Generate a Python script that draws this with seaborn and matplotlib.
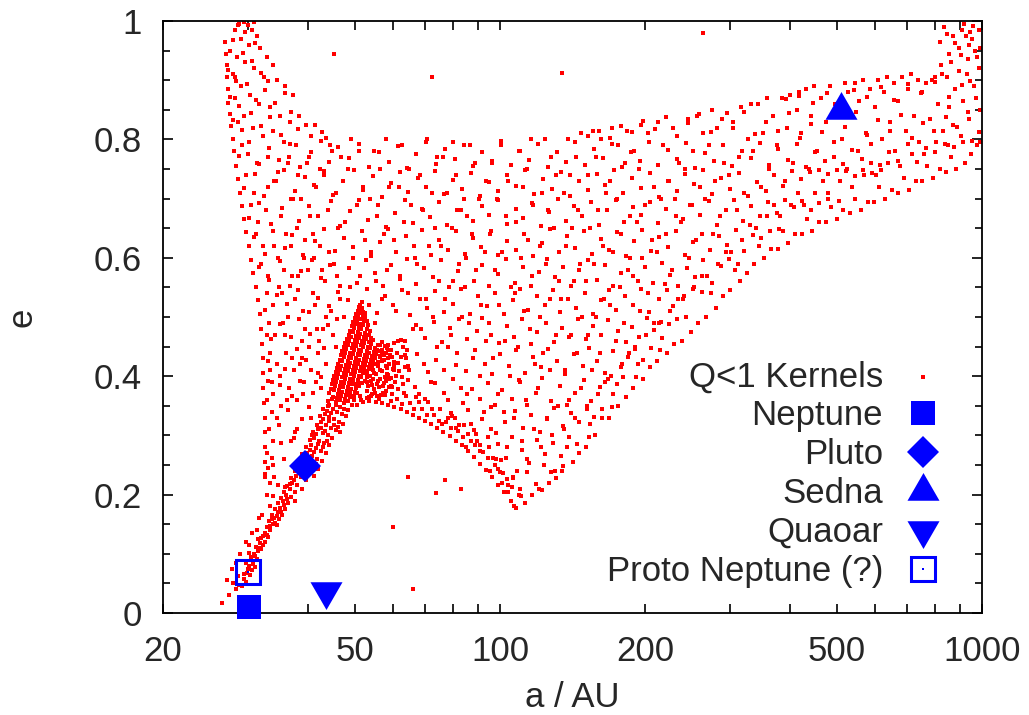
"""
plot.py -- Q<1 kernels in the (a, e) plane, with a few known bodies marked.
All values were read off the original figure by eye (a in AU, e).
"""
import pandas as pd
import matplotlib
matplotlib.use("Agg")
import matplotlib.pyplot as plt
from matplotlib.ticker import FixedLocator, NullFormatter
import seaborn as sns

# ---------------------------------------------------------------
# Kernel cloud, split by the region of the picture it was read from
# ---------------------------------------------------------------
left_edge = [
    (26.9, .965), (27.0, .945), (27.1, .925), (27.1, .905), (27.3, .885), (27.3, .862),
    (27.5, .843), (27.7, .822), (27.9, .801), (28.1, .780), (28.4, .755), (28.6, .733),
    (28.9, .710), (29.2, .688), (29.5, .665), (29.8, .643), (30.1, .620), (30.5, .597),
    (30.8, .574), (31.2, .550), (31.5, .528), (31.8, .505), (32.0, .480), (32.1, .455),
    (32.2, .430), (32.3, .405), (32.3, .380), (32.4, .355), (32.5, .330), (32.5, .305),
    (32.6, .280), (32.6, .255), (32.5, .230),
    (27.6, .950), (27.9, .910), (28.2, .870), (28.6, .830), (29.1, .790), (29.7, .740),
    (30.4, .690), (31.2, .640), (32.0, .590), (32.8, .540), (33.2, .490), (33.4, .440),
    (33.6, .390), (33.7, .340), (33.9, .290), (33.8, .250),
]

upper_lobe = [
    (28.2, .985), (28.8, .995), (29.4, .998), (30.0, .993), (30.6, .985), (31.3, .975),
    (29.0, .970), (30.2, .960), (31.8, .955), (32.9, .940), (33.8, .925), (28.5, .940),
    (29.6, .930), (30.9, .920), (32.4, .905), (34.5, .900), (35.8, .890), (37.2, .875),
    (29.0, .890), (30.3, .875), (31.6, .860), (33.3, .855), (34.9, .840), (36.6, .830),
    (38.3, .840), (39.6, .825), (29.4, .840), (30.8, .820), (32.2, .805), (33.9, .815),
    (35.7, .795), (37.8, .790), (40.5, .805), (42.7, .812), (30.0, .775), (31.4, .760),
    (33.0, .770), (34.6, .745), (36.3, .760), (38.2, .740), (40.1, .770), (42.3, .750),
    (44.8, .780),
    (28.0, .832), (29.2, .816), (30.5, .845), (31.9, .823), (33.4, .838), (35.1, .808),
    (36.9, .847), (38.1, .817), (41.3, .825), (43.6, .803),
    (27.6, .872), (28.7, .857), (29.9, .893), (31.2, .866), (32.6, .884), (34.1, .861),
    (35.8, .878), (28.3, .898),
    (27.3, .918), (28.2, .905), (29.3, .946), (30.6, .933), (31.9, .912), (33.1, .899),
    (27.9, .968), (29.6, .981), (31.1, .962), (28.6, .993), (30.9, .999),
]

fan_inner = [
    (30.9, .71), (31.5, .66), (32.2, .62), (32.7, .68), (33.1, .57), (32.9, .47),
    (33.3, .41), (32.8, .36), (33.2, .31), (32.9, .27), (33.4, .22), (33.1, .72),
    (34.0, .23), (35.6, .26), (36.8, .29), (34.4, .33), (36.1, .36), (35.0, .40),
    (37.1, .43), (34.2, .47), (36.4, .50), (35.3, .54), (37.0, .57), (34.6, .60),
    (36.0, .64), (35.1, .67), (37.3, .70), (34.3, .73), (36.5, .77), (35.8, .47),
    (34.8, .55), (36.9, .62),
    (38.0, .31), (40.6, .33), (39.1, .37), (41.5, .39), (38.4, .42), (40.2, .45),
    (41.8, .48), (39.0, .51), (40.9, .54), (38.2, .57), (41.2, .60), (39.5, .63),
    (40.4, .67), (38.7, .70), (41.6, .72), (39.8, .76), (38.9, .46), (40.0, .58),
    (42.5, .38), (43.6, .42), (45.8, .45), (42.9, .48), (44.7, .51), (46.5, .53),
    (43.3, .56), (45.3, .59), (42.4, .62), (46.2, .65), (44.0, .68), (45.6, .71),
    (43.1, .74), (46.8, .77), (44.4, .79),
    (33.9, .37), (35.2, .35), (36.5, .38), (37.9, .36), (39.2, .39), (34.5, .42),
    (36.0, .44), (37.4, .41), (38.8, .43), (40.5, .41), (42.0, .44), (33.8, .52),
    (35.4, .49), (37.6, .53), (39.5, .48), (41.3, .52), (43.5, .50), (45.0, .47),
    (34.0, .62), (35.6, .58), (37.9, .65), (39.2, .60), (41.0, .64), (42.8, .58),
    (44.2, .61), (46.0, .57),
    (32.8, .20), (33.3, .18), (32.1, .165), (31.3, .14), (30.2, .115), (32.6, .235),
    (47.4, .50), (48.9, .55), (51.2, .57), (49.6, .60), (52.4, .63), (47.8, .66),
    (50.5, .69), (52.1, .72), (48.4, .75), (50.9, .78), (49.2, .80),
    (53.6, .52), (56.8, .53), (55.2, .56), (58.4, .58), (54.1, .61), (57.5, .64),
    (55.7, .67), (53.8, .70), (58.9, .72), (56.3, .75), (54.7, .78), (57.9, .80),
    (55.0, .49),
    (60.2, .41), (63.8, .43), (61.5, .46), (65.9, .48), (60.8, .51), (64.4, .54),
    (62.1, .57), (66.5, .60), (60.4, .63), (63.2, .66), (65.4, .69), (61.7, .72),
    (64.9, .75), (62.6, .79),
    (67.8, .37), (71.9, .39), (69.6, .42), (74.1, .45), (68.5, .48), (72.6, .50),
    (70.3, .53), (74.6, .56), (67.4, .59), (71.1, .62), (73.4, .65), (69.2, .68),
    (72.3, .71), (68.1, .74), (74.0, .77), (70.7, .80),
    (75.8, .32), (80.6, .33), (78.1, .36), (82.9, .38), (76.6, .41), (81.4, .44),
    (79.2, .47), (83.5, .50), (77.0, .53), (80.1, .56), (82.3, .59), (75.5, .62),
    (79.7, .65), (83.0, .68), (77.7, .71), (81.0, .74), (76.3, .77), (79.9, .795),
    (84.9, .28), (89.6, .29), (87.2, .32), (92.5, .34), (85.6, .37), (90.8, .40),
    (88.0, .43), (93.4, .46), (86.1, .49), (91.2, .52), (84.5, .55), (89.1, .58),
    (92.9, .61), (87.5, .64), (85.3, .67), (90.3, .70), (93.7, .73), (88.6, .76),
    (86.7, .79),
    (95.2, .24), (100.8, .22), (98.3, .26), (103.6, .28), (96.0, .31), (101.9, .34),
    (99.1, .37), (104.8, .40), (96.8, .43), (102.5, .46), (94.7, .49), (99.7, .52),
    (105.3, .55), (97.6, .58), (101.2, .61), (95.5, .64), (103.0, .67), (98.7, .70),
    (104.1, .73), (96.4, .76), (100.4, .79),
]

fan_outer = [
    (107.2, .18), (112.5, .185), (109.8, .21), (116.3, .20), (108.4, .24), (114.0, .26),
    (111.1, .29), (117.6, .31), (106.9, .33), (113.2, .36), (110.2, .39), (118.2, .42),
    (108.9, .45), (115.4, .48), (112.0, .51), (107.5, .54), (116.8, .57), (110.7, .60),
    (114.6, .63), (108.1, .66), (117.1, .69), (111.6, .72), (113.8, .75), (109.3, .78),
    (115.9, .80),
    (120.4, .21), (126.3, .22), (123.5, .25), (130.2, .24), (121.6, .28), (128.4, .30),
    (125.0, .33), (131.7, .35), (119.8, .38), (127.1, .41), (123.0, .44), (130.8, .47),
    (121.1, .50), (126.8, .53), (132.3, .56), (124.4, .59), (120.9, .62), (129.3, .65),
    (125.7, .68), (122.3, .71), (131.0, .74), (127.6, .77), (124.0, .80),
    (134.6, .24), (141.5, .255), (138.0, .28), (145.8, .27), (135.5, .31), (143.1, .33),
    (139.4, .36), (147.6, .38), (136.2, .41), (144.2, .44), (140.3, .47), (148.1, .50),
    (134.0, .53), (142.4, .56), (146.9, .59), (137.3, .62), (141.0, .65), (145.0, .68),
    (135.9, .71), (139.9, .74), (143.7, .77), (138.6, .80), (147.2, .81),
    (150.5, .28), (157.2, .30), (154.0, .32), (162.8, .33), (151.8, .35), (159.6, .37),
    (165.2, .39), (155.3, .41), (161.4, .44), (152.4, .47), (158.1, .50), (164.3, .53),
    (150.9, .56), (156.7, .59), (163.5, .62), (153.6, .65), (160.0, .68), (166.1, .71),
    (152.0, .74), (157.9, .77), (162.2, .80), (155.8, .815),
    (168.4, .33), (176.1, .35), (172.0, .37), (182.5, .365), (169.7, .40), (179.3, .42),
    (185.0, .44), (173.8, .46), (180.6, .49), (168.9, .52), (177.2, .55), (184.1, .58),
    (171.3, .61), (178.5, .64), (186.2, .67), (174.6, .70), (169.1, .73), (181.8, .76),
    (175.5, .79), (183.3, .815), (170.5, .82),
    (189.0, .38), (198.2, .395), (193.6, .42), (205.1, .415), (190.3, .45), (201.0, .47),
    (208.4, .49), (195.4, .51), (203.3, .54), (188.5, .57), (197.0, .60), (206.7, .63),
    (192.1, .66), (199.8, .69), (209.0, .72), (194.5, .75), (189.7, .78), (202.4, .81),
    (196.3, .825),
    (212.0, .425), (222.4, .44), (217.1, .465), (230.0, .455), (213.6, .49), (225.3, .51),
    (233.8, .53), (219.5, .555), (227.9, .58), (211.4, .61), (221.0, .64), (231.5, .67),
    (215.8, .70), (224.6, .73), (234.7, .76), (218.3, .79), (228.6, .82), (213.0, .83),
    (238.1, .46), (249.5, .475), (243.6, .50), (258.0, .49), (239.9, .53), (252.7, .55),
    (262.1, .57), (246.3, .60), (255.4, .63), (237.3, .66), (248.0, .69), (259.8, .72),
    (242.2, .75), (251.1, .78), (263.5, .81), (245.0, .835), (256.6, .84),
    (267.0, .50), (280.2, .515), (273.4, .54), (289.6, .535), (269.1, .57), (283.8, .59),
    (294.0, .61), (276.3, .64), (286.5, .67), (266.2, .70), (278.9, .73), (291.7, .76),
    (271.5, .79), (282.0, .82), (295.3, .845), (274.8, .85),
    (299.5, .545), (314.6, .56), (307.0, .58), (325.0, .575), (302.1, .61), (318.3, .63),
    (330.2, .655), (309.7, .68), (321.6, .71), (298.4, .74), (312.9, .77), (327.4, .80),
    (304.8, .83), (316.0, .855), (332.5, .86),
    (336.0, .59), (353.1, .60), (344.5, .62), (364.8, .615), (339.2, .65), (357.4, .67),
    (370.6, .69), (347.6, .72), (361.2, .75), (335.1, .78), (351.0, .81), (367.9, .84),
    (342.3, .86), (358.7, .87),
    (377.2, .615), (396.5, .625), (386.4, .645), (409.3, .64), (380.7, .67), (401.2, .69),
    (416.0, .71), (390.1, .73), (405.5, .76), (376.4, .79), (394.2, .82), (412.8, .85),
    (384.0, .87), (399.0, .875), (418.2, .88),
    (423.5, .64), (445.0, .645), (433.7, .665), (459.2, .66), (427.0, .69), (450.3, .71),
    (466.8, .73), (437.9, .75), (455.6, .78), (422.1, .81), (442.5, .84), (463.0, .87),
    (430.6, .885), (448.1, .89),
    (475.3, .66), (499.6, .665), (487.0, .685), (515.8, .68), (480.1, .71), (507.5, .73),
    (524.2, .75), (492.3, .77), (512.0, .80), (473.8, .83), (496.1, .86), (527.0, .88),
    (484.5, .89), (519.3, .895),
    (533.0, .675), (560.4, .68), (546.2, .70), (579.1, .695), (538.6, .72), (569.8, .74),
    (588.5, .76), (552.0, .78), (574.3, .81), (531.7, .84), (557.0, .865), (585.2, .885),
    (543.9, .895), (566.3, .90),
    (597.5, .695), (628.9, .70), (612.4, .72), (650.0, .715), (603.1, .74), (638.6, .76),
    (660.2, .78), (619.7, .80), (644.8, .83), (598.9, .855), (626.0, .88), (655.5, .895),
    (608.3, .90), (634.1, .905),
    (670.4, .71), (705.0, .715), (687.8, .735), (729.6, .73), (676.2, .755), (716.5, .775),
    (741.0, .795), (694.1, .815), (722.8, .84), (668.5, .865), (701.3, .885), (735.7, .90),
    (682.0, .905), (711.4, .91),
    (751.6, .73), (790.0, .735), (770.3, .755), (818.4, .75), (758.2, .775), (803.7, .795),
    (831.5, .815), (778.6, .835), (810.1, .86), (749.8, .88), (786.2, .90), (825.9, .91),
    (765.0, .895), (797.3, .905),
    (842.5, .745), (885.0, .75), (863.3, .77), (921.6, .76), (951.0, .775), (849.7, .79),
    (903.8, .805), (978.2, .79), (871.4, .825), (938.5, .835), (856.0, .855), (912.3, .865),
    (990.0, .85), (880.6, .885), (962.7, .89), (846.1, .905), (930.4, .91), (897.7, .915),
    (985.3, .92),
]

# second pass over the fan, strip by strip in e
fan_fill = [
    (104.0, .205), (110.5, .198), (118.8, .218), (127.5, .238), (135.2, .248), (122.4, .208),
    (106.3, .228), (113.7, .238), (101.5, .236), (131.0, .228), (33.0, .245), (34.6, .216),
    (33.9, .198),
    (33.6, .262), (35.1, .288), (37.4, .296), (91.0, .274), (94.5, .297), (98.9, .285),
    (102.7, .262), (106.1, .297), (110.9, .276), (115.1, .254), (119.5, .292), (124.2, .268),
    (129.0, .288), (133.8, .266), (138.9, .297), (144.5, .286), (153.0, .298),
    (34.8, .318), (36.3, .343), (38.9, .327), (40.1, .348), (37.5, .305), (79.0, .337),
    (82.4, .318), (85.9, .343), (88.2, .309), (91.6, .327), (95.8, .348), (98.1, .304),
    (102.3, .322), (107.7, .341), (111.6, .312), (116.0, .334), (120.9, .306), (125.2, .327),
    (129.7, .347), (134.9, .316), (140.1, .338), (145.9, .323), (151.3, .345), (157.0, .331),
    (163.0, .344), (170.8, .348),
    (34.9, .385), (37.0, .366), (38.4, .392), (40.9, .371), (42.6, .398), (33.1, .392),
    (66.8, .381), (70.0, .362), (73.5, .388), (76.7, .372), (80.0, .396), (84.0, .355),
    (87.4, .379), (91.0, .362), (94.6, .389), (97.5, .352), (100.9, .377), (106.0, .362),
    (109.5, .394), (113.9, .352), (118.7, .371), (122.5, .397), (127.9, .358), (133.3, .384),
    (137.9, .352), (143.0, .372), (149.1, .393), (154.5, .358), (161.0, .382), (167.2, .395),
    (174.7, .386), (180.0, .398), (191.5, .399),
    (33.0, .425), (35.8, .413), (37.9, .446), (39.6, .428), (41.9, .405), (43.2, .447),
    (64.6, .418), (67.3, .437), (70.8, .407), (73.8, .428), (77.9, .449), (81.1, .419),
    (85.0, .409), (88.7, .445), (92.9, .421), (96.2, .403), (100.0, .437), (104.5, .417),
    (108.1, .445), (112.7, .406), (117.0, .432), (121.8, .416), (126.0, .446), (131.4, .425),
    (136.7, .404), (142.4, .437), (148.6, .417), (153.2, .448), (159.1, .426), (165.5, .405),
    (171.8, .442), (178.0, .415), (184.6, .433), (191.0, .446), (198.4, .428), (205.9, .447),
    (215.0, .445),
    (33.5, .462), (35.0, .488), (36.9, .467), (38.3, .496), (40.4, .472), (42.2, .459),
    (43.9, .487), (46.0, .497), (63.6, .460), (66.9, .486), (69.8, .465), (73.0, .492),
    (76.0, .458), (78.7, .481), (82.1, .497), (85.4, .463), (89.5, .476), (92.0, .498),
    (95.7, .470), (99.4, .456), (103.4, .484), (107.0, .467), (110.9, .496), (115.8, .455),
    (119.6, .475), (124.9, .490), (129.5, .458), (134.7, .482), (139.2, .466), (145.4, .497),
    (150.9, .462), (156.0, .485), (162.1, .470), (167.9, .495), (175.8, .476), (182.2, .457),
    (187.9, .483), (194.6, .466), (201.9, .498), (208.5, .478), (216.3, .492), (224.0, .488),
    (233.2, .497),
    (32.5, .512), (34.5, .538), (36.2, .522), (38.1, .546), (40.1, .508), (42.0, .532),
    (44.1, .518), (46.2, .543), (48.3, .528), (53.0, .548), (55.5, .507), (57.8, .535),
    (60.0, .520), (62.6, .545), (65.1, .503), (68.1, .530), (70.5, .516), (73.4, .544),
    (76.5, .508), (79.9, .522), (83.1, .548), (86.5, .505), (90.2, .535), (93.9, .518),
    (97.7, .541), (101.8, .505), (106.6, .528), (110.2, .547), (114.3, .512), (119.2, .535),
    (123.8, .520), (128.9, .546), (133.1, .508), (138.3, .531), (144.0, .515), (149.8, .541),
    (155.6, .505), (161.9, .528), (168.0, .545), (174.4, .512), (181.7, .536), (189.2, .520),
    (196.5, .548), (204.2, .509), (213.4, .530), (221.8, .545), (229.0, .518), (240.4, .535),
    (251.4, .548), (262.0, .542),
    (31.6, .585), (33.2, .562), (34.9, .594), (36.6, .553), (38.6, .578), (40.8, .597),
    (42.5, .566), (44.5, .588), (46.5, .552), (48.6, .582), (50.6, .558), (52.7, .596),
    (55.0, .575), (57.2, .553), (59.5, .588), (61.9, .564), (64.3, .598), (67.0, .556),
    (69.6, .583), (72.5, .568), (75.3, .596), (78.3, .551), (81.7, .577), (85.0, .599),
    (88.4, .561), (91.8, .587), (95.1, .553), (99.0, .572), (103.1, .598), (107.3, .558),
    (111.5, .585), (115.9, .552), (120.5, .576), (125.4, .598), (130.0, .567), (135.2, .584),
    (140.7, .552), (146.2, .579), (152.0, .596), (158.6, .563), (165.0, .587), (171.6, .552),
    (178.0, .575), (185.7, .599), (193.2, .560), (200.1, .585), (208.0, .557), (216.5, .592),
    (225.5, .571), (234.6, .552), (244.5, .582), (254.0, .567), (264.3, .596), (275.0, .558),
    (287.0, .586), (299.0, .598), (311.8, .590),
    (30.9, .635), (32.5, .606), (33.8, .646), (35.9, .617), (37.1, .639), (39.0, .605),
    (41.3, .628), (43.2, .648), (45.4, .611), (47.4, .634), (49.5, .618), (51.7, .645),
    (53.9, .603), (56.3, .627), (58.6, .649), (61.0, .610), (63.7, .636), (66.2, .620),
    (68.9, .647), (71.9, .604), (74.9, .630), (77.9, .614), (81.2, .645), (84.6, .607),
    (88.0, .633), (91.5, .618), (95.6, .646), (99.1, .605), (103.6, .629), (108.0, .613),
    (112.4, .641), (117.3, .603), (122.0, .625), (127.3, .648), (132.4, .609), (138.0, .636),
    (143.3, .617), (149.5, .645), (155.2, .606), (161.7, .631), (168.4, .614), (175.2, .644),
    (182.4, .603), (190.0, .628), (197.5, .647), (205.6, .611), (214.0, .635), (222.9, .619),
    (232.2, .646), (241.7, .605), (251.9, .627), (262.2, .641), (273.0, .614), (284.5, .636),
    (296.3, .622), (308.6, .647), (321.0, .612), (334.4, .638), (348.0, .633), (362.5, .645),
    (380.0, .648),
    (30.2, .667), (31.7, .692), (33.5, .657), (35.3, .684), (36.8, .699), (38.3, .662),
    (40.2, .688), (42.0, .671), (44.7, .696), (46.5, .654), (48.9, .679), (51.0, .698),
    (53.3, .664), (55.9, .689), (58.0, .652), (60.7, .676), (63.4, .697), (66.0, .659),
    (68.8, .683), (71.7, .669), (74.7, .694), (77.7, .655), (81.3, .681), (84.3, .699),
    (87.9, .662), (91.6, .688), (95.0, .673), (98.9, .697), (103.2, .657), (107.8, .682),
    (111.8, .668), (116.6, .693), (121.6, .654), (126.2, .678), (131.7, .699), (136.8, .663),
    (142.6, .687), (148.3, .671), (154.7, .694), (160.4, .656), (167.1, .680), (174.0, .697),
    (181.0, .661), (188.6, .686), (196.0, .672), (204.5, .695), (212.7, .658), (221.5, .683),
    (230.8, .699), (240.2, .665), (250.2, .689), (260.4, .673), (271.3, .696), (282.6, .655),
    (294.1, .680), (306.2, .697), (319.0, .662), (332.0, .688), (345.9, .670), (360.5, .694),
    (375.3, .675), (390.7, .698), (407.1, .686), (424.0, .696), (441.5, .680), (460.0, .693),
    (479.2, .699), (505.0, .696),
    (29.5, .718), (31.0, .741), (32.4, .705), (34.0, .730), (35.6, .748), (37.6, .712),
    (39.4, .737), (41.1, .723), (43.1, .746), (45.0, .706), (47.3, .729), (49.8, .748),
    (52.0, .714), (54.5, .738), (56.9, .703), (59.3, .726), (62.0, .745), (64.6, .711),
    (67.5, .735), (70.2, .720), (73.3, .747), (76.6, .707), (79.9, .732), (83.6, .716),
    (87.0, .743), (90.9, .704), (94.8, .728), (99.2, .712), (103.5, .740), (107.9, .722),
    (112.9, .749), (117.8, .708), (122.8, .733), (128.2, .717), (133.8, .745), (139.6, .705),
    (145.7, .730), (152.0, .714), (158.7, .742), (165.5, .723), (172.7, .748), (180.2, .709),
    (188.0, .735), (196.2, .718), (204.7, .744), (213.6, .703), (222.8, .729), (232.5, .713),
    (242.6, .741), (253.1, .724), (264.1, .749), (275.6, .707), (287.6, .734), (300.0, .716),
    (313.1, .743), (326.6, .704), (340.8, .728), (355.7, .712), (371.1, .740), (387.2, .721),
    (404.0, .747), (421.6, .733), (439.9, .745), (459.0, .748), (478.9, .741), (499.7, .749),
    (521.4, .746), (544.0, .739), (567.6, .748), (592.2, .744), (618.0, .749),
    (28.7, .772), (30.1, .795), (31.6, .758), (33.2, .786), (34.8, .765), (36.7, .792),
    (38.5, .753), (40.6, .779), (42.6, .797), (44.1, .761), (46.2, .787), (48.7, .768),
    (51.1, .793), (53.6, .754), (56.0, .778), (58.8, .762), (61.4, .789), (64.2, .752),
    (67.1, .776), (70.3, .795), (73.7, .759), (77.1, .783), (80.6, .767), (84.3, .791),
    (88.1, .755), (92.0, .779), (96.2, .763), (100.6, .797), (105.2, .757), (110.0, .781),
    (114.9, .765), (120.1, .792), (125.6, .753), (131.2, .778), (137.1, .762), (143.4, .795),
    (149.9, .757), (156.6, .784), (163.7, .768), (171.1, .793), (178.8, .754), (186.8, .779),
    (195.3, .763), (204.0, .796), (213.2, .756), (222.9, .782), (233.0, .767), (243.4, .794),
    (254.4, .752), (265.9, .777), (277.8, .764), (290.4, .791), (303.4, .755), (317.1, .780),
    (331.4, .768), (346.4, .794), (362.0, .757), (378.3, .783), (395.4, .766), (413.2, .792),
    (431.8, .754), (451.3, .778), (471.6, .763), (492.9, .795), (515.1, .758), (538.3, .782),
    (562.6, .767), (587.9, .793), (614.4, .756), (642.1, .779), (671.0, .764), (701.3, .792),
    (732.9, .762), (765.9, .785), (800.4, .779), (836.5, .792), (874.2, .787), (913.6, .796),
    (954.8, .798), (990.0, .795),
    (152.0, .806), (160.3, .814), (169.0, .803), (178.4, .822), (188.0, .812), (198.4, .831),
    (209.3, .818), (220.8, .838), (232.9, .805), (245.7, .827), (259.2, .843), (273.4, .812),
    (288.4, .834), (304.2, .820), (321.0, .846), (338.6, .809), (357.2, .830), (376.8, .815),
    (397.5, .844), (419.3, .803), (442.4, .826), (466.7, .812), (492.3, .838), (519.4, .821),
    (547.9, .847), (578.0, .807), (609.8, .832), (643.3, .815), (678.7, .842), (716.0, .803),
    (755.3, .827), (796.9, .814), (840.7, .838), (886.9, .821), (935.7, .846), (987.0, .812),
    (392.0, .868), (418.1, .874), (446.0, .862), (476.0, .879), (541.6, .884), (578.0, .872),
    (616.6, .889), (657.8, .866), (701.8, .894), (748.7, .879), (798.8, .897), (852.2, .872),
    (909.1, .892), (970.0, .870), (944.0, .898),
]

top_right = [
    (818.0, .965), (836.0, .990), (855.2, .945), (872.0, .975), (896.3, .955), (918.7, .995),
    (934.0, .935), (951.5, .970), (968.2, .950), (985.0, .985), (907.0, .985), (940.8, .960),
    (975.6, .940), (862.0, .930), (823.0, .925), (848.0, .978), (880.0, .962), (925.0, .975),
    (958.0, .992), (991.0, .955), (903.0, .942), (944.0, .982),
]

tail_band = [
    (26.5, .017), (27.4, .030), (28.3, .040), (29.2, .045), (29.8, .052), (28.0, .050),
    (27.1, .055), (28.6, .062), (29.5, .058), (30.3, .064),
    (29.9, .068), (30.6, .072), (31.0, .078), (30.2, .080), (29.7, .085), (30.8, .088),
    (31.4, .092), (30.4, .095), (27.8, .075), (28.4, .085), (28.9, .100),
    (30.9, .100), (31.5, .104), (32.0, .108), (31.2, .112), (31.8, .118), (32.5, .120),
    (31.5, .125), (32.2, .130), (33.0, .128), (29.8, .120), (30.6, .135),
    (32.6, .135), (33.4, .140), (32.9, .145), (33.8, .150), (34.4, .148), (33.2, .155),
    (34.0, .160), (34.8, .158), (33.6, .165), (34.6, .170), (35.3, .166), (31.6, .160),
    (34.2, .175), (35.0, .178), (35.8, .175), (34.7, .185), (35.5, .190), (36.4, .186),
    (35.1, .195), (36.0, .200), (36.9, .196), (37.5, .190), (35.6, .205), (36.6, .210),
    (37.6, .205),
    (36.2, .215), (37.1, .220), (38.0, .216), (38.8, .210), (36.9, .228), (37.8, .232),
    (38.7, .229), (39.6, .224), (37.5, .240), (38.4, .244), (39.3, .240), (40.3, .236),
    (41.2, .232),
    (38.2, .255), (39.1, .258), (40.0, .252), (41.0, .248), (42.0, .244), (38.8, .268),
    (39.8, .270), (40.8, .265), (41.8, .260), (42.7, .256),
    (39.6, .280), (40.5, .284), (41.5, .279), (42.5, .274), (43.5, .270), (40.3, .292),
    (41.2, .296), (42.2, .291), (43.2, .287), (44.2, .283), (41.0, .305), (41.9, .310),
    (42.9, .304), (43.9, .300), (44.9, .296),
    (41.7, .318), (42.6, .322), (43.6, .318), (44.6, .313), (45.6, .309), (46.5, .305),
    (42.4, .332), (43.3, .336), (44.3, .331), (45.3, .327), (46.3, .323), (47.2, .319),
    (43.0, .345), (44.0, .349), (45.0, .344), (46.0, .340), (47.0, .336), (48.0, .332),
    (28.8, .048), (29.5, .066), (30.0, .075), (30.7, .082), (31.1, .097), (30.1, .102),
    (31.6, .110), (32.3, .115), (31.9, .126), (32.8, .131), (33.3, .147), (34.1, .152),
    (33.7, .158), (34.5, .164), (35.1, .171), (35.6, .182), (36.2, .193), (35.9, .212),
    (36.7, .218), (37.4, .225), (38.3, .236), (39.0, .233), (39.8, .246), (40.7, .242),
    (41.6, .252), (39.3, .262), (40.3, .276), (41.1, .272), (42.0, .285), (43.0, .280),
    (43.8, .291), (40.7, .300), (41.6, .302), (42.5, .313), (43.4, .308), (44.3, .324),
    (45.2, .318), (46.1, .315), (42.9, .328), (43.8, .341), (44.7, .338), (45.6, .352),
    (46.6, .348), (47.5, .344), (48.5, .343),
]

wedge = [
    (43.9, .358), (44.8, .362), (45.7, .356), (46.6, .360), (47.5, .354), (48.4, .358),
    (49.3, .352), (44.3, .372), (45.2, .376), (46.1, .370), (47.0, .374), (47.9, .368),
    (48.8, .372), (49.7, .366),
    (44.8, .386), (45.7, .390), (46.6, .384), (47.5, .388), (48.4, .382), (49.3, .386),
    (50.2, .380), (51.1, .384), (45.3, .400), (46.2, .404), (47.1, .398), (48.0, .402),
    (48.9, .396), (49.8, .400), (50.7, .394), (51.6, .398), (52.5, .392), (45.9, .414),
    (46.8, .418), (47.7, .412), (48.6, .416), (49.5, .410), (50.4, .414), (51.3, .408),
    (52.2, .412), (53.1, .406),
    (46.5, .428), (47.4, .432), (48.3, .426), (49.2, .430), (50.1, .424), (51.0, .428),
    (51.9, .422), (52.8, .426), (53.7, .420), (54.6, .424), (47.1, .442), (48.0, .446),
    (48.9, .440), (49.8, .444), (50.7, .438), (51.6, .442), (52.5, .436), (53.4, .440),
    (54.3, .434), (55.2, .438), (56.4, .432), (57.6, .436),
    (47.8, .456), (48.7, .460), (49.6, .454), (50.5, .458), (51.4, .452), (52.3, .456),
    (53.2, .450), (54.1, .454), (55.1, .448), (56.3, .452), (58.2, .448), (48.6, .470),
    (49.5, .474), (50.4, .468), (51.3, .472), (52.2, .466), (53.1, .470), (54.0, .464),
    (49.3, .484), (50.2, .488), (51.1, .482), (52.0, .486), (52.9, .480), (53.8, .476),
    (50.0, .498), (50.8, .502), (51.6, .496), (52.4, .500), (53.0, .494), (50.7, .510),
    (51.4, .514), (52.1, .508), (51.3, .520), (51.7, .525),
    (44.2, .351), (45.1, .365), (46.0, .363), (46.9, .367), (47.8, .361), (48.9, .365),
    (49.8, .359), (50.6, .371), (44.6, .379), (45.5, .383), (46.4, .377), (47.3, .381),
    (48.2, .375), (49.1, .379), (50.0, .373), (50.8, .389), (45.0, .393), (45.9, .397),
    (46.8, .391), (47.7, .395), (48.6, .389), (49.5, .393), (50.4, .387), (51.8, .389),
    (52.9, .399), (45.6, .407), (46.5, .411), (47.4, .405), (48.3, .409), (49.2, .403),
    (50.1, .407), (51.0, .401), (51.9, .405), (52.8, .409), (53.6, .415), (46.2, .421),
    (47.1, .425), (48.0, .419), (48.9, .423), (49.8, .417), (50.7, .421), (51.6, .415),
    (52.5, .419), (53.4, .413), (54.3, .417), (55.3, .421), (46.8, .435), (47.7, .439),
    (48.6, .433), (49.5, .437), (50.4, .431), (51.3, .435), (52.2, .429), (53.1, .433),
    (54.0, .427), (55.0, .431), (56.0, .443), (57.0, .445), (47.5, .449), (48.4, .453),
    (49.3, .447), (50.2, .451), (51.1, .445), (52.0, .449), (52.9, .443), (53.8, .447),
    (54.7, .441), (55.7, .445), (48.2, .463), (49.1, .467), (50.0, .461), (50.9, .465),
    (51.8, .459), (52.7, .463), (53.6, .457), (54.6, .461), (48.9, .477), (49.8, .481),
    (50.7, .475), (51.6, .479), (52.5, .473), (53.4, .469), (49.6, .491), (50.5, .495),
    (51.3, .489), (52.2, .493), (53.2, .487), (50.3, .505), (51.1, .507), (51.9, .503),
    (52.6, .507), (51.0, .517), (51.8, .515),
    # right flank of the wedge, out to a ~ 59
    (53.3, .383), (54.0, .392), (54.8, .378), (55.5, .387), (56.3, .396), (57.1, .383),
    (57.9, .392), (58.6, .402), (53.8, .401), (55.3, .404), (56.9, .408), (58.3, .414),
    (54.5, .411), (55.9, .424), (57.4, .427), (58.9, .421), (56.5, .434), (57.9, .440),
    (58.7, .444), (55.8, .452), (56.9, .457), (57.8, .451), (53.1, .391), (54.1, .366),
    (55.7, .366), (57.3, .371), (58.8, .381), (59.5, .397), (60.2, .418), (59.2, .436),
]

wedge_side = [
    (53.5, .365), (55.0, .372), (56.6, .368), (58.1, .375), (59.8, .370), (61.4, .378),
    (54.2, .385), (55.8, .392), (57.4, .388), (59.0, .395), (60.7, .390), (62.5, .398),
    (64.4, .394), (54.9, .405), (56.5, .410), (58.2, .404), (59.9, .412), (61.6, .408),
    (63.5, .415), (57.0, .425), (58.7, .430), (60.4, .424), (62.2, .432), (59.5, .445),
    (61.3, .440), (63.0, .450),
    (53.0, .375), (54.6, .396), (56.2, .382), (57.7, .398), (59.3, .384), (61.0, .400),
    (62.8, .387), (64.8, .410), (55.9, .417), (57.9, .418), (59.6, .433), (61.5, .422),
    (63.4, .436), (56.8, .438), (58.5, .452), (60.3, .456), (62.2, .461), (64.1, .445),
]

arc = [
    (50.5, .352), (52.0, .356), (53.6, .358), (55.2, .357), (56.9, .355), (58.6, .352),
    (60.4, .348), (62.2, .344), (64.0, .340), (65.9, .335), (67.9, .330), (69.9, .325),
    (72.0, .319), (74.1, .313), (76.3, .306), (78.6, .299), (80.9, .291), (83.3, .283),
    (85.8, .273), (88.3, .263), (90.9, .252), (93.6, .242), (96.4, .230), (99.3, .217),
    (102.2, .204), (105.2, .190), (108.0, .178),
    (51.2, .366), (54.4, .370), (57.7, .368), (61.3, .362), (65.0, .354), (68.9, .344),
    (73.0, .334), (77.4, .322), (82.0, .307), (86.9, .291), (92.2, .272), (97.8, .250),
    (103.6, .226), (109.5, .200),
    (63.2, .372), (67.0, .365), (71.0, .356), (75.2, .345), (79.7, .332), (84.4, .318),
    (89.4, .302), (94.9, .280), (100.6, .258), (106.5, .230),
    (51.5, .360), (53.0, .363), (56.0, .362), (59.3, .358), (62.7, .353), (66.4, .344),
    (70.5, .335), (74.7, .324), (79.1, .312), (83.9, .298), (88.9, .284), (94.3, .262),
    (100.0, .238), (105.9, .212), (59.6, .382), (63.9, .366), (67.8, .356), (72.4, .345),
    (77.9, .330), (81.2, .312), (86.0, .302), (90.8, .283), (96.7, .262), (99.0, .244),
    (103.9, .216),
]

strays = [
    (45.3, .944), (72.3, .905), (134.5, .912), (264.0, .980), (64.5, .230), (76.9, .225),
    (73.6, .203), (60.0, .145), (66.0, .040), (83.0, .210),
]

# ---------------------------------------------------------------
# Named bodies
# ---------------------------------------------------------------
body_names = ["Neptune", "Pluto", "Sedna", "Quaoar", "Proto Neptune (?)"]
body_a = [30.1, 39.5, 510.0, 43.5, 30.0]
body_e = [0.010, 0.249, 0.850, 0.037, 0.070]

x_ticks = [20, 50, 100, 200, 500, 1000]
x_minor = [30, 40, 60, 70, 80, 90, 300, 400, 600, 700, 800, 900]
y_ticks = [0, 0.2, 0.4, 0.6, 0.8, 1.0]
y_tick_labels = ["0", "0.2", "0.4", "0.6", "0.8", "1"]
y_minor = [0.05 * i for i in range(21)]

# ---------------------------------------------------------------
# Style
# ---------------------------------------------------------------
sns.set_theme(style="ticks")
plt.rcParams["font.family"] = ["Liberation Sans", "DejaVu Sans"]
plt.rcParams["font.size"] = 25
plt.rcParams["axes.linewidth"] = 1.3

BLUE = "#0000ff"
RED = "#ff0000"
FS = 25

# centroid-centred triangles, like gnuplot draws them
TRI_UP = [(0, 0.577), (-0.5, -0.289), (0.5, -0.289)]
TRI_DN = [(0, -0.577), (-0.5, 0.289), (0.5, 0.289)]

kernels = (left_edge + upper_lobe + fan_inner + fan_outer + fan_fill + top_right
           + tail_band + wedge + wedge_side + arc + strays)
df = pd.DataFrame(kernels, columns=["a", "e"])

fig = plt.figure(figsize=(10.29, 7.15), dpi=100)
ax = fig.add_axes([163 / 1029, 1 - 613 / 715, 819 / 1029, 592 / 715])

sns.scatterplot(data=df, x="a", y="e", ax=ax, s=6, marker="s", color=RED,
                linewidth=0, legend=False, zorder=2)
kern_handle = ax.collections[0]

styles = {
    "Neptune": dict(marker="s", ms=17.3, mfc=BLUE, mec=BLUE, mew=0),
    "Pluto": dict(marker="D", ms=15.8, mfc=BLUE, mec=BLUE, mew=0),
    "Sedna": dict(marker=TRI_UP, ms=26.6, mfc=BLUE, mec=BLUE, mew=0),
    "Quaoar": dict(marker=TRI_DN, ms=26.6, mfc=BLUE, mec=BLUE, mew=0),
    "Proto Neptune (?)": dict(marker="s", ms=16.6, mfc="none", mec=BLUE, mew=2.2),
}
handles = [kern_handle]
for name, a, e in zip(body_names, body_a, body_e):
    ln, = ax.plot([a], [e], ls="none", clip_on=False, zorder=4, **styles[name])
    if name.startswith("Proto"):
        dot, = ax.plot([a], [e], ls="none", marker="s", ms=2.0, mfc=BLUE,
                       mec=BLUE, mew=0, clip_on=False, zorder=5)
        handles.append((ln, dot))
    else:
        handles.append(ln)
labels = ["Q<1 Kernels"] + body_names

# ---------------------------------------------------------------
# Axes
# ---------------------------------------------------------------
ax.set_xscale("log")
ax.set_xlim(20, 1000)
ax.set_ylim(0, 1)
ax.set_xticks(x_ticks)
ax.set_xticklabels([str(t) for t in x_ticks])
ax.xaxis.set_minor_locator(FixedLocator(x_minor))
ax.xaxis.set_minor_formatter(NullFormatter())
ax.set_yticks(y_ticks)
ax.set_yticklabels(y_tick_labels)
ax.yaxis.set_minor_locator(FixedLocator(y_minor))

ax.tick_params(which="both", direction="in", top=True, right=True,
               width=1.2, color="black", labelsize=FS)
ax.tick_params(axis="x", which="both", length=6.5, pad=16)
ax.tick_params(axis="y", which="major", length=7.2, pad=15)
ax.tick_params(axis="y", which="minor", length=5.0)
for sp in ax.spines.values():
    sp.set_color("black")

ax.set_xlabel("a / AU", fontsize=FS, va="baseline")
ax.xaxis.set_label_coords(0.5, (613 - 707) / 592)
ax.set_ylabel("e", fontsize=FS, va="center")
ax.yaxis.set_label_coords((22 - 163) / 819, (613 - 317) / 592)

ax.legend(handles, labels, loc="lower right",
          bbox_to_anchor=(940 / 1029, 1 - 588 / 715), bbox_transform=fig.transFigure,
          frameon=False, markerfirst=False, fontsize=FS, borderpad=0,
          borderaxespad=0, handletextpad=0.64, handlelength=1.0,
          labelspacing=0.17, numpoints=1, scatterpoints=1)

fig.savefig("out.png", dpi=100)
plt.close(fig)
